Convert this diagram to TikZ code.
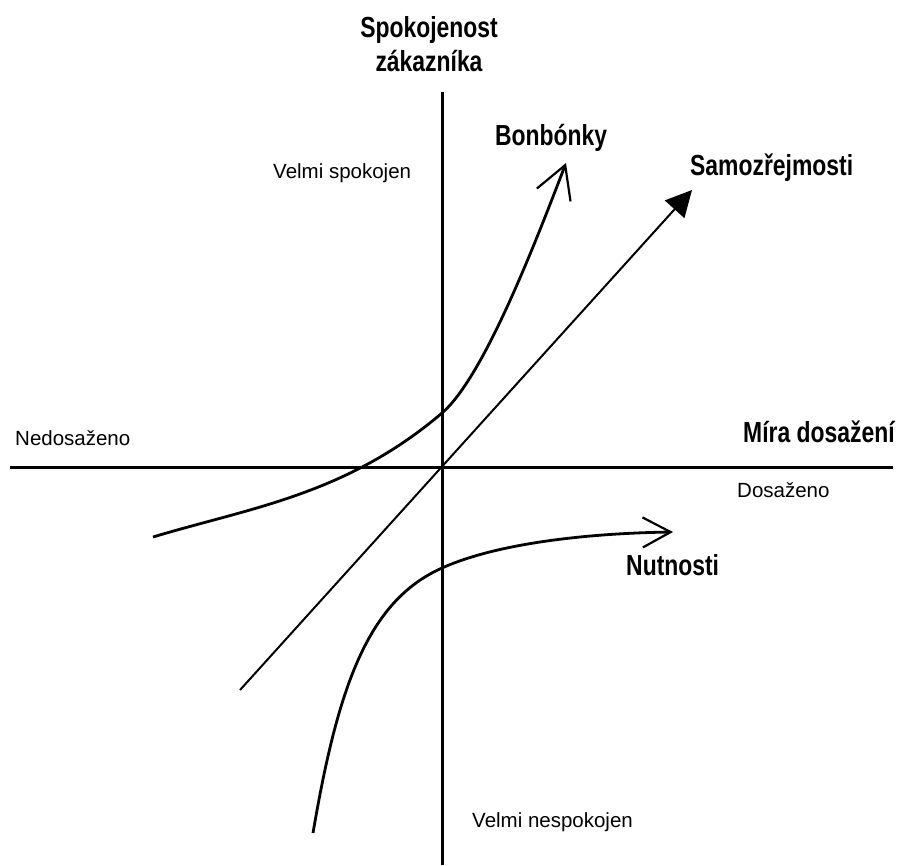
\documentclass[tikz,border=0pt]{standalone}
\usepackage{fontspec}
\setmainfont{Liberation Sans}
\newfontfamily\narrowbold[FakeStretch=0.79]{Liberation Sans Bold}
\usetikzlibrary{arrows.meta, positioning}

\begin{document}
\begin{tikzpicture}[
    x=1pt, y=-1pt,
    axis/.style={line width=3pt},
    curve/.style={line width=2.8pt, -{Straight Barb[length=28pt, width=30pt, line width=2.2pt]}},
    diag/.style={line width=2pt, -{Triangle[length=26pt, width=26pt]}},
    lbl/.style={inner sep=0pt, anchor=base west, font=\fontsize{20.5}{24}\selectfont},
    heading/.style={inner sep=0pt, anchor=base west, font=\narrowbold\fontsize{29}{34}\selectfont},
]
\useasboundingbox (0,0) rectangle (901,865);

% Axis end points
\coordinate (ytop) at (442,92);
\coordinate (ybot) at (442,865);
\coordinate (xleft) at (10,467);
\coordinate (xright) at (893,467);

% Curve end points
\coordinate (bonstart) at (153,537);
\coordinate (bonmid) at (442,413);
\coordinate (bonend) at (566,163);
\coordinate (samstart) at (240,690);
\coordinate (samend) at (692,190);
\coordinate (nutstart) at (313,833);
\coordinate (nutmid) at (442,568);
\coordinate (nutend) at (673,532);

% Axis titles
\node[inner sep=0pt, anchor=north, align=center, font=\narrowbold\fontsize{29}{34}\selectfont] (ytitle) at (429,16) {Spokojenost\\zákazníka};
\node[heading] (xtitle) at (743,442) {Míra dosažení};

% Axis ends
\node[lbl] (spokojen) at (273,178) {Velmi spokojen};
\node[lbl] (nespokojen) at (472,827) {Velmi nespokojen};
\node[lbl] (nedosazeno) at (15,445) {Nedosaženo};
\node[lbl] (dosazeno) at (737,497) {Dosaženo};

% Curve names
\node[heading] (bonbonky) at (495,145) {Bonbónky};
\node[heading] (samozrejmosti) at (690,175) {Samozřejmosti};
\node[heading] (nutnosti) at (626,575) {Nutnosti};

% Axes
\draw[axis] (ytop) -- (ybot);
\draw[axis] (xleft) -- (xright);

% Curves
\draw[curve, -{Straight Barb[length=32pt, width=36pt, line width=2.2pt]}] (bonstart) .. controls (249,508) and (346,495) .. (bonmid)
    .. controls (484,377) and (536,241) .. (bonend);
\draw[diag] (samstart) -- (samend);
\draw[curve] (nutstart) .. controls (338,686) and (368,601) .. (nutmid)
    .. controls (502,541) and (600,533) .. (nutend);

\end{tikzpicture}
\end{document}
